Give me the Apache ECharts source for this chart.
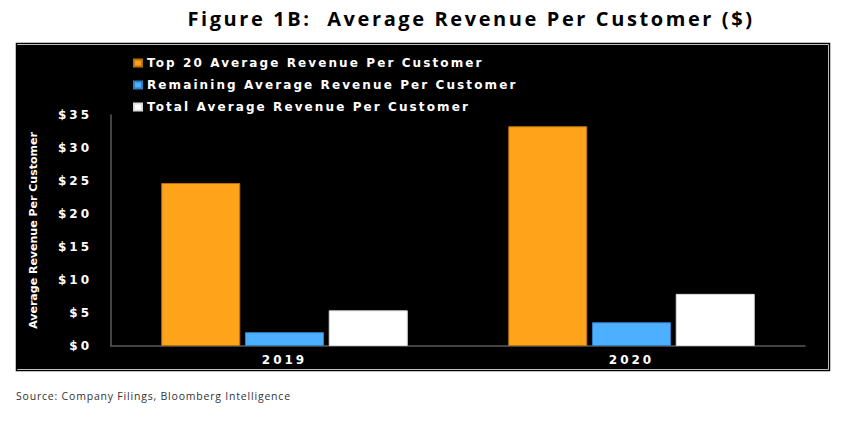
<!DOCTYPE html>
<html>
<head>
<meta charset="utf-8">
<script src="https://cdn.jsdelivr.net/npm/echarts@6/dist/echarts.min.js"></script>
<style>
html,body{margin:0;padding:0;background:#fff;}
#c{width:854px;height:432px;}
#c text[style*="ttlx"]{letter-spacing:2.6px;}
#c text[style*="lgdx"]{letter-spacing:2.1px;}
#c text[style*="ylbx"]{letter-spacing:3px;}
#c text[style*="xlbx"]{letter-spacing:3px;}
#c text[style*="srcx"]{letter-spacing:0.8px;}
</style>
</head>
<body>
<div id="c"></div>
<script>
var categories = ['2019', '2020'];
var seriesNames = ['Top 20 Average Revenue Per Customer', 'Remaining Average Revenue Per Customer', 'Total Average Revenue Per Customer'];
var top20 = [24.7, 33.3];
var remaining = [2.1, 3.6];
var total = [5.4, 7.9];
var yTicks = [0, 5, 10, 15, 20, 25, 30, 35];

var colors = ['#FFA31A', '#4DAFFF', '#FFFFFF'];
var borders = ['#B8730F', '#2F7FC0', '#DDDDDD'];
var values = [top20, remaining, total];

var chart = echarts.init(document.getElementById('c'), null, { renderer: 'svg' });
var series = seriesNames.map(function (n, i) {
  return {
    name: n, type: 'bar', data: values[i],
    barWidth: 79, barGap: '6%',
    itemStyle: { color: colors[i], borderColor: borders[i], borderWidth: 1 }
  };
});
chart.setOption({
  animation: false,
  backgroundColor: '#ffffff',
  title: {
    text: 'Figure 1B:  Average Revenue Per Customer ($)',
    left: 466, top: 3, textAlign: 'center',
    textStyle: { fontFamily: 'Open Sans, ttlx', fontWeight: 'bold', fontSize: 20, color: '#000' }
  },
  graphic: [
    { type: 'rect', shape: { x: 16.5, y: 43.5, width: 813, height: 327 }, style: { fill: '#fff', stroke: '#000', lineWidth: 1.5 }, z: -10 },
    { type: 'rect', shape: { x: 17, y: 45, width: 811, height: 324 }, style: { fill: '#000' }, z: -9 },
    { type: 'text', left: 16, top: 390, style: { text: 'Source: Company Filings, Bloomberg Intelligence', font: '10.5px "Open Sans", srcx', fill: '#333' } }
  ],
  legend: {
    orient: 'vertical', left: 128, top: 52, itemGap: 10,
    itemWidth: 8, itemHeight: 7, icon: 'rect',
    textStyle: { color: '#fff', fontFamily: 'DejaVu Sans, lgdx', fontWeight: 'bold', fontSize: 12 },
    data: seriesNames
  },
  grid: { left: 111, right: 49, top: 115, bottom: 86 },
  xAxis: {
    type: 'category', data: categories,
    axisLine: { lineStyle: { color: '#5a5a5a', width: 1.5 } },
    axisTick: { show: false },
    axisLabel: { color: '#fff', fontFamily: 'DejaVu Sans, xlbx', fontWeight: 'bold', fontSize: 12, margin: 8 }
  },
  yAxis: {
    type: 'value', min: 0, max: 35, interval: 5,
    name: 'Average Revenue Per Customer', nameLocation: 'middle', nameGap: 72, nameRotate: 90,
    nameTextStyle: { color: '#fff', fontFamily: 'DejaVu Sans', fontWeight: 'bold', fontSize: 11 },
    axisLine: { show: true, lineStyle: { color: '#5a5a5a', width: 1.5 } },
    axisTick: { show: false },
    splitLine: { show: false },
    axisLabel: {
      color: '#fff', fontFamily: 'DejaVu Sans, ylbx', fontWeight: 'bold', fontSize: 12, margin: 19,
      formatter: function (v) { return yTicks.indexOf(v) >= 0 ? '$' + v : ''; }
    }
  },
  series: series
});
</script>
</body>
</html>
